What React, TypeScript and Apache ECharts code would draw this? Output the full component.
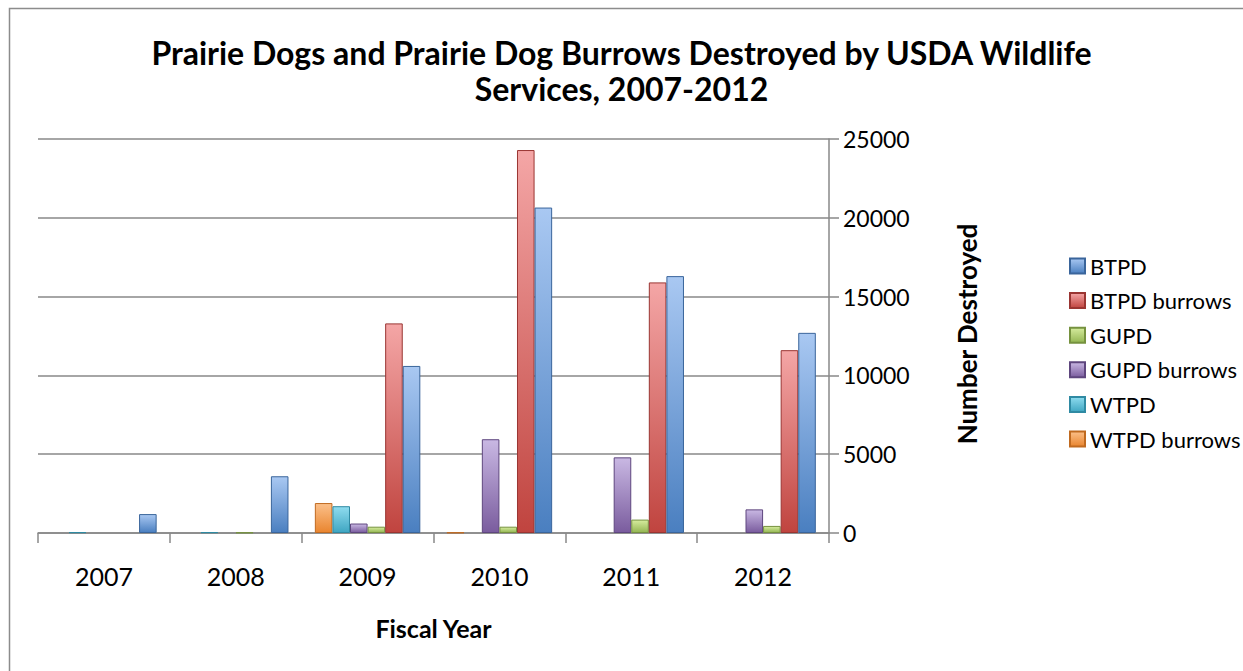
import React, { useEffect, useRef } from "react";
import * as echarts from "echarts";

const categories = ["2007", "2008", "2009", "2010", "2011", "2012"];
const btpd = [1200, 3600, 10600, 20650, 16300, 12700];
const btpdBurrows = [0, 0, 13300, 24300, 15900, 11600];
const gupd = [0, 30, 400, 400, 850, 450];
const gupdBurrows = [0, 0, 600, 5950, 4800, 1500];
const wtpd = [50, 50, 1700, 0, 0, 0];
const wtpdBurrows = [0, 0, 1900, 30, 0, 0];
const yTicks = [0, 5000, 10000, 15000, 20000, 25000];

const FONT = "Lato, 'Open Sans', sans-serif";

function grad(light: string, base: string) {
  return new echarts.graphic.LinearGradient(0, 0, 0, 1, [
    { offset: 0, color: light },
    { offset: 1, color: base },
  ]);
}

export default function App() {
  const ref = useRef<HTMLDivElement>(null);
  useEffect(() => {
    if (!ref.current) return;
    const chart = echarts.init(ref.current, undefined, { renderer: "svg" });
    const mk = (name: string, data: number[], light: string, base: string, border: string) => ({
      name,
      type: "bar",
      data: data.map((v) => (v === 0 ? "-" : v)),
      barGap: "0%",
      barCategoryGap: "20%",
      itemStyle: { color: grad(light, base), borderColor: border, borderWidth: 1 },
    });
    chart.setOption({
      animation: false,
      backgroundColor: "#fff",
      title: {
        text: "Prairie Dogs and Prairie Dog Burrows Destroyed by USDA Wildlife\nServices, 2007-2012",
        left: "center",
        top: 29,
        textStyle: { fontFamily: FONT, fontWeight: "bold", fontSize: 32, lineHeight: 36, color: "#000" },
      },
      legend: {
        orient: "vertical",
        left: 1064,
        top: 249,
        itemWidth: 15,
        itemHeight: 15,
        itemGap: 10.6,
        icon: "rect",
        data: ["BTPD", "BTPD burrows", "GUPD", "GUPD burrows", "WTPD", "WTPD burrows"],
        textStyle: { fontFamily: FONT, fontSize: 22, lineHeight: 24, color: "#000" },
      },
      grid: { left: 38, right: 414, top: 139, bottom: 138, containLabel: false },
      xAxis: {
        type: "category",
        data: categories,
        axisLine: { lineStyle: { color: "#888", width: 1.5 } },
        axisTick: { show: true, length: 10, lineStyle: { color: "#888", width: 1.5 } },
        axisLabel: { fontFamily: FONT, fontSize: 25, color: "#000", margin: 30 },
        name: "Fiscal Year",
        nameLocation: "middle",
        nameGap: 82,
        nameTextStyle: { fontFamily: FONT, fontWeight: "bold", fontSize: 25, color: "#000" },
      },
      yAxis: {
        type: "value",
        position: "right",
        min: yTicks[0],
        max: yTicks[yTicks.length - 1],
        interval: 5000,
        axisLine: { show: true, lineStyle: { color: "#888", width: 1.5 } },
        axisTick: { show: true, length: 10, lineStyle: { color: "#888", width: 1.5 } },
        axisLabel: {
          fontFamily: FONT,
          fontSize: 23,
          color: "#000",
          margin: 14,
          formatter: (v: number) => String(v),
        },
        splitLine: { show: true, lineStyle: { color: "#888", width: 1.5 } },
      },
      graphic: [
        {
          type: "rect",
          shape: { x: 9.5, y: 8.5, width: 1300, height: 700 },
          style: { fill: "none", stroke: "#8c8c8c", lineWidth: 1.5 },
          silent: true,
        },
        {
          type: "text",
          x: 967,
          y: 334,
          rotation: Math.PI / 2,
          style: {
            text: "Number Destroyed",
            align: "center",
            verticalAlign: "middle",
            fontFamily: FONT,
            fontWeight: "bold",
            fontSize: 26,
            fill: "#000",
          },
        },
      ],
      series: [
        mk("WTPD burrows", wtpdBurrows, "#fbc08a", "#e9852f", "#c06a20"),
        mk("WTPD", wtpd, "#8fdcef", "#3fa6c2", "#2f8aa3"),
        mk("GUPD burrows", gupdBurrows, "#c9b8e3", "#7a5c9e", "#5e467e"),
        mk("GUPD", gupd, "#d6ec9e", "#94b653", "#76923f"),
        mk("BTPD burrows", btpdBurrows, "#f4a6a6", "#c0443f", "#9a3532"),
        mk("BTPD", btpd, "#a9c8f2", "#4a7fc0", "#3a659b"),
      ],
    });
    return () => chart.dispose();
  }, []);
  return <div ref={ref} style={{ position: "absolute", left: 0, top: 0, width: 1243, height: 671 }} />;
}
